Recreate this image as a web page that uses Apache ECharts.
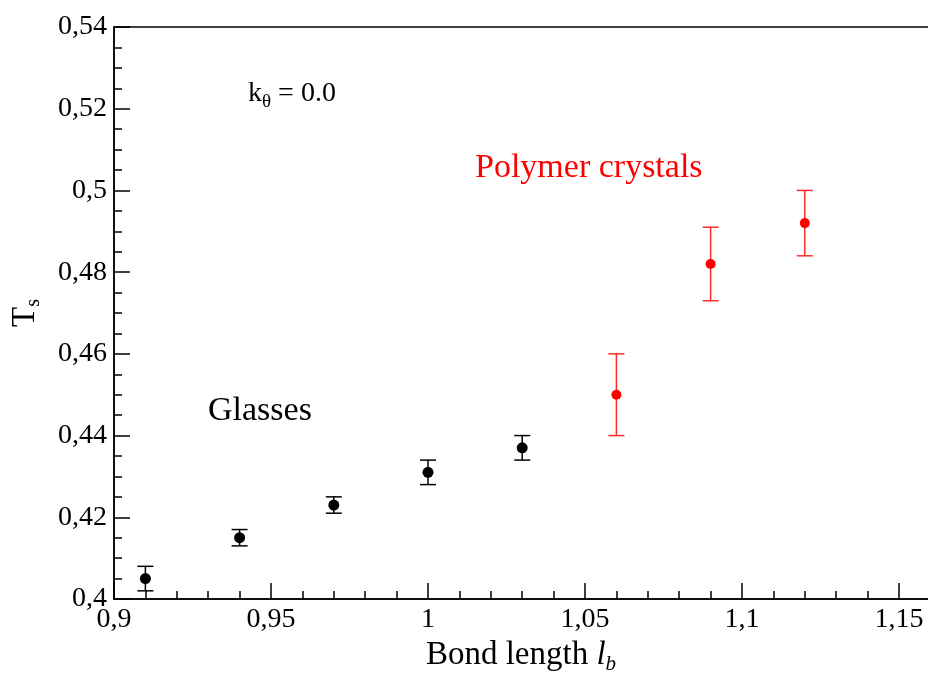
<!DOCTYPE html>
<html>
<head>
<meta charset="utf-8">
<script src="https://cdn.jsdelivr.net/npm/echarts@6/dist/echarts.min.js"></script>
<style>
  html, body { margin: 0; padding: 0; background: #fff; }
  #chart { width: 928px; height: 673px; }
</style>
</head>
<body>
<div id="chart"></div>
<script>
// Bond length l_b and temperature T_s, k_theta = 0.0
const bondLengthGlass = [0.91, 0.94, 0.97, 1.00, 1.03];
const tsGlass = [0.405, 0.415, 0.423, 0.431, 0.437];
const errGlass = [0.003, 0.002, 0.002, 0.003, 0.003];

const bondLengthCrystal = [1.06, 1.09, 1.12];
const tsCrystal = [0.450, 0.482, 0.492];
const errCrystal = [0.010, 0.009, 0.008];

const xTicks = { min: 0.9, max: 1.2, interval: 0.05 };
const yTicks = { min: 0.40, max: 0.54, interval: 0.02 };

const FONT = '"Liberation Serif", "Times New Roman", serif';

function rows(xs, ys, es) {
  return xs.map((x, i) => [x, ys[i], es[i]]);
}

function commaLabel(v) {
  return String(+Number(v).toFixed(4)).replace('.', ',');
}

function errorBars(color) {
  return function (params, api) {
    const x = api.value(0), y = api.value(1), e = api.value(2);
    const top = api.coord([x, y + e]);
    const bot = api.coord([x, y - e]);
    const hw = 8;
    const style = { stroke: color, lineWidth: 1.5 };
    return {
      type: 'group',
      children: [
        { type: 'line', shape: { x1: top[0], y1: top[1], x2: bot[0], y2: bot[1] }, style: style },
        { type: 'line', shape: { x1: top[0] - hw, y1: top[1], x2: top[0] + hw, y2: top[1] }, style: style },
        { type: 'line', shape: { x1: bot[0] - hw, y1: bot[1], x2: bot[0] + hw, y2: bot[1] }, style: style }
      ]
    };
  };
}

const subRich = function (size, subSize, shift, pad) {
  return {
    n: { fontFamily: FONT, fontSize: size, verticalAlign: 'top', color: '#000' },
    i: { fontFamily: FONT, fontSize: size, fontStyle: 'italic', verticalAlign: 'top', color: '#000' },
    s: { fontFamily: FONT, fontSize: subSize, verticalAlign: 'top', padding: [shift, 0, 0, 0], color: '#000' },
    si: { fontFamily: FONT, fontSize: subSize, fontStyle: 'italic', verticalAlign: 'top', padding: [shift, pad || 0, 0, 0], color: '#000' }
  };
};

const chart = echarts.init(document.getElementById('chart'), null, { renderer: 'canvas' });

// the frame runs past the right edge of the canvas
const plotWidth = 942;

chart.setOption({
  animation: false,
  backgroundColor: '#fff',
  grid: {
    left: 114, top: 27, width: plotWidth, height: 572,
    show: true, borderColor: '#000', borderWidth: 1.5,
    containLabel: false, outerBoundsMode: 'none'
  },
  xAxis: {
    type: 'value',
    min: xTicks.min, max: xTicks.max, interval: xTicks.interval,
    name: '{n|Bond length }{i|l}{si|b}',
    nameLocation: 'middle',
    nameGap: 40,
    nameTextStyle: { rich: subRich(33, 21, 15, 128) },
    axisLine: { lineStyle: { color: '#000', width: 1.5 } },
    axisTick: { inside: true, length: 16, lineStyle: { color: '#000', width: 1.5 } },
    minorTick: { show: true, splitNumber: 5, length: 8, lineStyle: { color: '#000', width: 1.5 } },
    splitLine: { show: false },
    axisLabel: {
      fontFamily: FONT, fontSize: 28, color: '#000', margin: 7,
      formatter: commaLabel
    }
  },
  yAxis: {
    type: 'value',
    min: yTicks.min, max: yTicks.max, interval: yTicks.interval,
    name: '{n|T}{s|s}',
    nameLocation: 'middle',
    nameGap: 70,
    nameRotate: 90,
    nameTextStyle: { rich: subRich(33, 20, 15) },
    axisLine: { lineStyle: { color: '#000', width: 1.5 } },
    axisTick: { inside: true, length: 16, lineStyle: { color: '#000', width: 1.5 } },
    minorTick: { show: true, splitNumber: 4, length: 8, lineStyle: { color: '#000', width: 1.5 } },
    splitLine: { show: false },
    axisLabel: {
      fontFamily: FONT, fontSize: 28, color: '#000', margin: 7,
      formatter: commaLabel
    }
  },
  graphic: [
    {
      type: 'text', left: 248, top: 80,
      style: {
        text: '{n|k}{s|θ}{n| = 0.0}',
        rich: subRich(28, 19, 13)
      }
    },
    {
      type: 'text', left: 475, top: 151,
      style: { text: 'Polymer crystals', fill: '#ff0000', font: '34px ' + FONT }
    },
    {
      type: 'text', left: 208, top: 394,
      style: { text: 'Glasses', fill: '#000', font: '34px ' + FONT }
    }
  ],
  series: [
    {
      name: 'Glasses error',
      type: 'custom',
      renderItem: errorBars('#000'),
      data: rows(bondLengthGlass, tsGlass, errGlass),
      encode: { x: 0, y: 1 },
      z: 2
    },
    {
      name: 'Glasses',
      type: 'scatter',
      symbol: 'circle',
      symbolSize: 11,
      itemStyle: { color: '#000', opacity: 1 },
      data: bondLengthGlass.map((x, i) => [x, tsGlass[i]]),
      z: 3
    },
    {
      name: 'Crystals error',
      type: 'custom',
      renderItem: errorBars('#ff2a2a'),
      data: rows(bondLengthCrystal, tsCrystal, errCrystal),
      encode: { x: 0, y: 1 },
      z: 2
    },
    {
      name: 'Polymer crystals',
      type: 'scatter',
      symbol: 'circle',
      symbolSize: 10,
      itemStyle: { color: '#ff0000', opacity: 1 },
      data: bondLengthCrystal.map((x, i) => [x, tsCrystal[i]]),
      z: 3
    }
  ]
});
</script>
</body>
</html>
